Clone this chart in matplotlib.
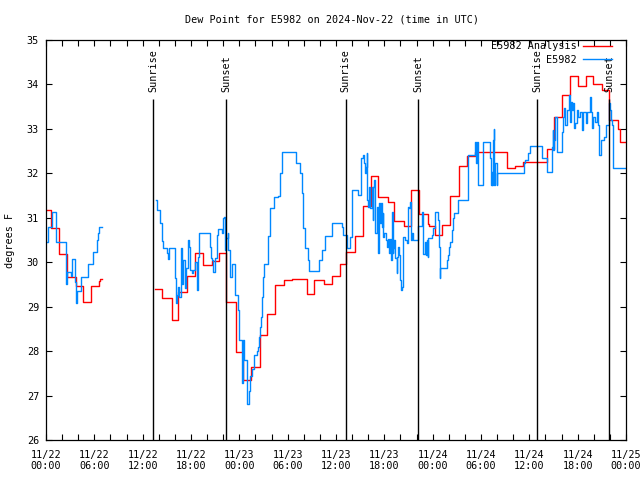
import numpy as np
import matplotlib
matplotlib.use("Agg")
from matplotlib import pyplot as plt
from matplotlib.ticker import MultipleLocator

# hours since 2024-11-22 00:00 UTC
blue_t = [0.0, 0.2, 0.79, 1.2, 2.44, 2.52, 2.6, 3.06, 3.27, 3.56, 3.68, 3.8, 3.89, 4.3, 5.21, 5.87,
          6.29, 6.45, 6.62, 6.87, 6.9,
          13.65, 13.74, 14.15, 14.44, 14.56, 14.98, 15.19, 15.31, 16.01, 16.1, 16.22, 16.35, 16.55,
          16.72, 16.84, 16.97, 17.25, 17.38, 17.67, 17.79, 17.87, 18.08, 18.29, 18.5, 18.7, 18.83,
          18.99, 20.36, 20.48, 20.6, 20.77, 20.98, 21.19, 21.31, 21.81, 21.93, 22.1, 22.22, 22.34,
          22.55, 22.63, 22.84, 23.05, 23.46, 23.79, 23.96, 24.37, 24.45, 24.62, 24.99, 25.2, 25.32,
          25.61, 25.86, 26.15, 26.36, 26.44, 26.56, 26.69, 26.85, 26.98, 27.1, 27.6, 27.8, 28.34,
          28.84, 29.05, 29.26, 30.99, 31.53, 31.74, 31.94, 32.15, 32.56, 32.65, 33.93, 34.3, 34.63,
          35.46, 36.7, 36.9, 37.33, 37.4, 37.8, 37.95, 38.03, 38.77, 39.06, 39.3, 39.39, 39.47, 39.6,
          39.72, 39.81, 39.89, 40.01, 40.14, 40.22, 40.43, 40.55, 40.63, 40.76, 40.88, 41.05, 41.17,
          41.3, 41.46, 41.54, 41.67, 41.79, 41.87, 42.0, 42.17, 42.29, 42.5, 42.62, 42.7, 42.83,
          42.91, 43.03, 43.12, 43.24, 43.36, 43.53, 43.61, 43.74, 43.86, 43.94, 44.03, 44.15, 44.28,
          44.36, 44.6, 44.78, 44.9, 44.98, 45.1, 45.18, 45.27, 45.39, 45.5, 46.14, 46.64, 46.84,
          47.05, 47.13, 47.25, 47.38, 47.46, 47.87, 48.08, 48.29, 48.62, 48.78, 48.87, 48.95, 49.82,
          49.94, 50.07, 50.19, 50.36, 50.56, 50.69, 51.18, 52.34, 53.25, 53.38, 53.46, 53.59, 54.21,
          55.11, 55.24, 55.32, 55.4, 55.49, 55.57, 55.65, 55.74, 55.94, 56.03, 59.33, 59.46, 59.87,
          60.08, 61.53, 62.23, 62.77, 62.9, 62.98, 63.06, 63.18, 63.39, 63.47, 64.09, 64.21, 64.34,
          64.46, 64.63, 64.96, 65.04, 65.13, 65.25, 65.37, 65.54, 65.67, 65.88, 66.08, 66.29, 66.5,
          66.7, 66.91, 67.03, 67.2, 67.53, 67.65, 67.78, 67.94, 68.15, 68.36, 68.56, 68.69, 68.85,
          69.27, 69.51, 69.89, 70.01, 70.13, 70.22, 70.42, 72.0]
blue_v = [30.46, 30.8, 31.12, 30.45, 29.79, 29.5, 29.79, 29.7, 30.07, 29.55, 29.08, 29.2, 29.35, 29.66,
          29.97, 30.24, 30.5, 30.65, 30.79, 30.79, np.nan,
          31.41, 31.17, 30.88, 30.48, 30.33, 30.2, 30.07, 30.33, 29.64, 29.08, 29.26, 29.45, 29.22,
          30.33, 29.5, 30.05, 29.41, 29.86, 30.5, 30.35, 29.82, 29.76, 29.82, 30.01, 29.37, 30.12,
          30.65, 30.35, 30.09, 30.05, 29.79, 30.09, 30.61, 30.74, 30.65, 30.99, 31.02, 30.27, 30.54,
          30.66, 30.27, 29.67, 29.95, 29.26, 28.92, 28.25, 27.29, 28.25, 27.81, 26.82, 27.1, 27.44,
          27.6, 27.91, 28.0, 28.1, 28.32, 28.55, 28.77, 29.22, 29.67, 29.95, 30.59, 31.21, 31.47,
          31.5, 32.0, 32.47, 32.23, 32.0, 31.55, 30.76, 30.31, 30.05, 29.8, 30.05, 30.27, 30.6,
          30.88, 30.79, 30.61, 30.5, 30.33, 30.57, 31.11, 31.62, 31.51, 32.34, 32.37, 32.41, 32.23, 32.0,
          32.15, 32.46, 31.4, 31.25, 31.7, 31.21, 31.7, 30.95, 31.7, 31.85, 30.65, 31.25, 30.2,
          31.33, 30.88, 31.33, 30.8, 31.1, 30.57, 30.65, 30.5, 30.35, 30.52, 30.2, 30.52, 30.05,
          31.14, 30.2, 30.31, 30.5, 30.09, 29.75, 30.12, 30.35, 30.16, 29.6, 29.37, 29.45, 29.75,
          30.57, 30.5, 30.43, 30.88, 31.25, 31.21, 31.36, 30.5, 30.65, 30.5, 30.81, 31.14, 30.18,
          30.46, 30.16, 30.5, 30.12, 30.54, 30.61, 30.76, 31.14, 30.95, 30.35, 29.64, 29.86, 30.05,
          30.16, 30.35, 30.46, 30.72, 30.99, 31.11, 31.41, 32.41, 32.71, 32.23, 32.71, 31.74, 32.71,
          32.34, 31.74, 32.04, 31.74, 32.75, 32.99, 31.74, 32.23, 31.74, 32.0, 32.23, 32.3, 32.46,
          32.61, 32.34, 32.04, 32.6, 32.97, 32.52, 32.75, 33.27, 33.01, 32.49, 32.94, 33.27, 33.46,
          33.09, 33.42, 33.76, 33.16, 33.61, 33.42, 33.58, 33.01, 33.13, 33.42, 33.27, 33.39, 32.97,
          33.38, 33.39, 33.13, 33.39, 33.72, 33.39, 33.01, 33.27, 33.16, 33.39, 33.09, 32.41, 32.75,
          32.82, 33.09, 33.58, 33.42, 33.2, 33.09, 32.11, 32.11]

red_t = [0.0, 0.66, 1.65, 2.64, 3.69, 4.63, 5.62, 6.58, 6.75, 6.95, 7.0,
         13.5, 14.44, 15.64, 16.42, 17.46, 18.5, 19.45, 20.57, 21.5, 22.4, 23.6, 24.4, 25.5, 26.6,
         27.4, 28.4, 29.5, 30.5, 32.4, 33.3, 34.5, 35.5, 36.5, 37.2, 38.4, 39.3, 40.4, 41.2, 42.4,
         43.2, 44.4, 45.3, 46.3, 47.4, 47.6, 48.3, 49.2, 50.2, 51.3, 52.2, 53.3, 57.2, 58.2, 59.2,
         62.15, 63.06, 64.1, 65.1, 66.1, 67.0, 67.9, 69.0, 69.9, 71.0, 71.2, 72.0]
red_v = [31.17, 30.76, 30.18, 29.67, 29.46, 29.1, 29.46, 29.57, 29.62, 29.62, np.nan,
         29.4, 29.19, 28.7, 29.32, 29.7, 30.2, 29.94, 30.03, 30.2, 29.11, 27.99, 27.36, 27.65, 28.36,
         28.83, 29.49, 29.6, 29.62, 29.28, 29.6, 29.52, 29.69, 29.95, 30.22, 30.59, 31.26, 31.94,
         31.46, 31.36, 30.93, 30.81, 31.62, 31.08, 30.87, 30.81, 30.61, 30.83, 31.49, 32.17, 32.4,
         32.47, 32.13, 32.16, 32.25, 32.55, 33.26, 33.76, 34.19, 33.97, 34.19, 34.01, 33.87, 33.2,
         33.0, 32.7, 32.7]

sun_t = [13.32, 22.34, 37.2, 46.2, 61.0, 69.92]
sun_labels = ["Sunrise", "Sunset", "Sunrise", "Sunset", "Sunrise", "Sunset"]

tick_hours = [0, 6, 12, 18, 24, 30, 36, 42, 48, 54, 60, 66, 72]
tick_labels = ["11/22\n00:00", "11/22\n06:00", "11/22\n12:00", "11/22\n18:00",
               "11/23\n00:00", "11/23\n06:00", "11/23\n12:00", "11/23\n18:00",
               "11/24\n00:00", "11/24\n06:00", "11/24\n12:00", "11/24\n18:00",
               "11/25\n00:00"]

plt.rcParams['font.family'] = ['DejaVu Sans Mono']
fs = 7.3

fig = plt.figure(figsize=(6.4, 4.8), dpi=100)
ax = fig.add_axes([46 / 640, 40 / 480, 580 / 640, 400 / 480])

ax.plot(red_t, red_v, color='#ff0000', lw=1.0, drawstyle='steps-post', label='E5982 Analysis')
ax.plot(blue_t, blue_v, color='#0088ff', lw=1.0, drawstyle='steps-post', label='E5982')

ax.vlines(sun_t, 26, 33.67, color='black', lw=1.0)
for t, s in zip(sun_t, sun_labels):
    ax.text(t, 33.84, s, rotation=90, ha='center', va='bottom', fontsize=fs)

ax.set_xlim(0, 72)
ax.set_ylim(26, 35)
ax.set_xticks(tick_hours)
ax.set_xticklabels(tick_labels, linespacing=1.15)
ax.xaxis.set_minor_locator(MultipleLocator(2))
ax.set_yticks(range(26, 36))
ax.tick_params(which='both', direction='in', top=True, right=True, length=4, width=0.8,
               labelsize=fs)
ax.tick_params(axis='x', pad=7)
ax.tick_params(axis='y', pad=5)
for sp in ax.spines.values():
    sp.set_linewidth(0.9)

ax.legend(loc='upper right', bbox_to_anchor=((612 - 46) / 580, 0.997), markerfirst=False,
          frameon=False, fontsize=fs, handlelength=2.9, borderaxespad=0, borderpad=0,
          labelspacing=0.35, handletextpad=0.6)

fig.text(332 / 640, 1 - 19 / 480, 'Dew Point for E5982 on 2024-Nov-22 (time in UTC)',
         ha='center', va='center', fontsize=fs)
fig.text(10 / 640, 0.5, 'degrees F', rotation=90, ha='center', va='center', fontsize=fs)

fig.savefig('out.png', dpi=100)
